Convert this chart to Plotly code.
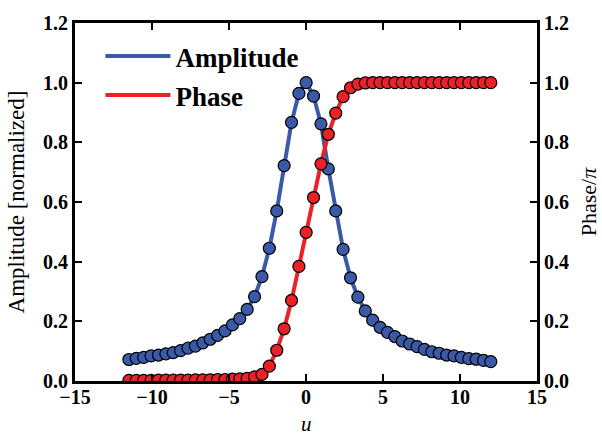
import plotly.graph_objects as go

u = [-11.50, -11.02, -10.54, -10.06, -9.58, -9.10, -8.62, -8.14, -7.66, -7.18,
     -6.70, -6.22, -5.74, -5.26, -4.78, -4.30, -3.82, -3.34, -2.86, -2.38,
     -1.90, -1.42, -0.94, -0.46, 0.01, 0.49, 0.97, 1.45, 1.93, 2.41,
     2.89, 3.37, 3.85, 4.33, 4.81, 5.29, 5.77, 6.25, 6.73, 7.21,
     7.69, 8.17, 8.65, 9.13, 9.61, 10.09, 10.57, 11.05, 11.53, 12.00]

amplitude = [0.072, 0.076, 0.079, 0.084, 0.087, 0.091, 0.095, 0.102, 0.110, 0.117,
             0.128, 0.140, 0.153, 0.168, 0.188, 0.209, 0.240, 0.283, 0.350, 0.445,
             0.570, 0.722, 0.867, 0.964, 1.000, 0.955, 0.862, 0.711, 0.570, 0.441,
             0.346, 0.281, 0.235, 0.204, 0.180, 0.163, 0.149, 0.134, 0.124, 0.115,
             0.106, 0.098, 0.093, 0.087, 0.084, 0.079, 0.075, 0.073, 0.069, 0.065]

phase = [0.002, 0.002, 0.002, 0.002, 0.003, 0.003, 0.003, 0.003, 0.003, 0.004,
         0.004, 0.004, 0.005, 0.005, 0.006, 0.007, 0.009, 0.014, 0.022, 0.050,
         0.103, 0.175, 0.270, 0.384, 0.498, 0.615, 0.728, 0.827, 0.898, 0.953,
         0.983, 0.995, 0.999, 1.000, 1.000, 1.000, 1.000, 1.000, 1.000, 1.000,
         1.000, 1.000, 1.000, 1.000, 1.000, 1.000, 1.000, 1.000, 1.000, 1.000]

x_ticks = [-15, -10, -5, 0, 5, 10, 15]
x_tick_text = ["\u221215", "\u221210", "\u22125", "0", "5", "10", "15"]
y_ticks = [0.0, 0.2, 0.4, 0.6, 0.8, 1.0, 1.2]

BLUE = "#3a5aa8"
RED = "#ec2027"
SERIF = "Liberation Serif"

fig = go.Figure()
fig.add_trace(go.Scatter(x=u, y=amplitude, mode="lines+markers", showlegend=False,
                         line=dict(color=BLUE, width=4),
                         marker=dict(size=12, color=BLUE, line=dict(color="black", width=1.2))))
fig.add_trace(go.Scatter(x=u, y=phase, mode="lines+markers", showlegend=False, yaxis="y2",
                         line=dict(color=RED, width=4),
                         marker=dict(size=12, color=RED, line=dict(color="black", width=1.2))))
# legend entries (line only)
fig.add_trace(go.Scatter(x=[None], y=[None], mode="lines", name="Amplitude",
                         legendgroup="a", line=dict(color=BLUE, width=4)))
fig.add_trace(go.Scatter(x=[None], y=[None], mode="lines", name="Phase",
                         legendgroup="p", line=dict(color=RED, width=4)))

axis_common = dict(showline=True, linecolor="black", linewidth=3, ticks="inside",
                   ticklen=7, tickwidth=1.5, tickcolor="black", showgrid=False,
                   zeroline=False, automargin=False,
                   tickfont=dict(family=SERIF, size=20, color="black", weight="bold"))

fig.update_layout(
    width=602, height=437,
    margin=dict(l=75, r=65, t=23, b=56),
    plot_bgcolor="white", paper_bgcolor="white",
    xaxis=dict(range=[-15, 15], tickvals=x_ticks, ticktext=x_tick_text, mirror="ticks",
               ticklabelstandoff=-4, **axis_common),
    yaxis=dict(range=[0, 1.2], tickvals=y_ticks, tickformat=".1f",
               title=dict(text="Amplitude [normalized]",
                          font=dict(family=SERIF, size=23, color="black"), standoff=12),
               **axis_common),
    yaxis2=dict(range=[0, 1.2], tickvals=y_ticks, tickformat=".1f", overlaying="y",
                side="right",
                title=dict(text="Phase/<i>\u03c0</i>",
                           font=dict(family=SERIF, size=22, color="black"), standoff=13),
                **axis_common),
    legend=dict(x=0.055, y=0.975, xanchor="left", yanchor="top", bgcolor="rgba(0,0,0,0)",
                font=dict(family=SERIF, size=27, color="black", weight="bold"),
                itemwidth=65, tracegroupgap=1),
    annotations=[dict(text="<i>u</i>", xref="paper", yref="paper", x=0.5, y=-0.12,
                      xanchor="center", yanchor="middle", showarrow=False,
                      font=dict(family=SERIF, size=21, color="black"))],
)

fig.write_html("out.html", post_script="document.body.style.margin='0';",
               config={"displayModeBar": False})
